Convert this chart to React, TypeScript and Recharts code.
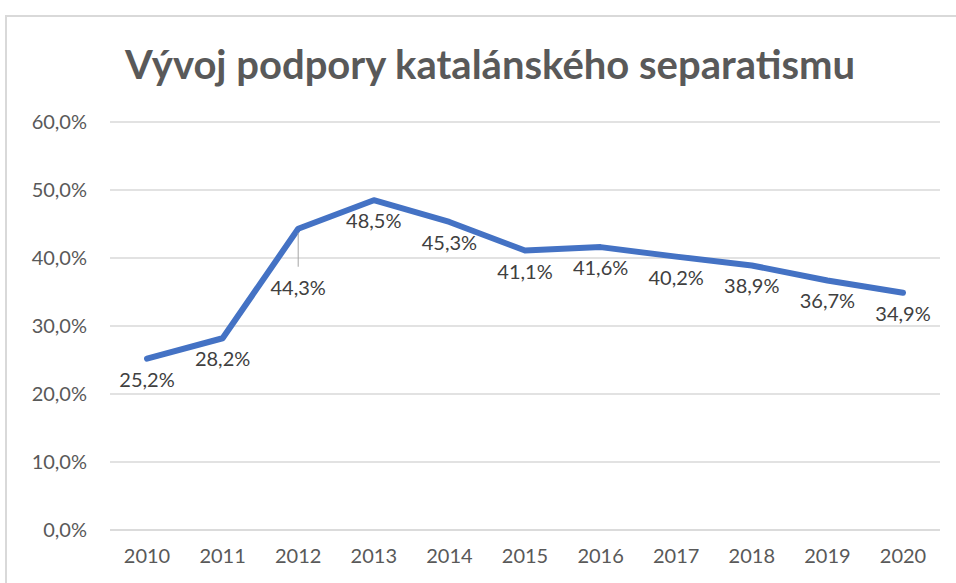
import React from 'react';
import { LineChart, Line, XAxis, YAxis, CartesianGrid, LabelList } from 'recharts';

const years = ['2010', '2011', '2012', '2013', '2014', '2015', '2016', '2017', '2018', '2019', '2020'];
const support = [25.2, 28.2, 44.3, 48.5, 45.3, 41.1, 41.6, 40.2, 38.9, 36.7, 34.9];
const yTicks = [0, 10, 20, 30, 40, 50, 60];

const data = years.map((year, i) => ({ year, value: support[i] }));

const FONT = 'Lato, "Noto Sans", sans-serif';
const TEXT = '#595959';

const fmt = (v: number) => `${v.toFixed(1).replace('.', ',')}%`;

const PointLabel = (props: any) => {
  const { x, y, value, index } = props;
  // 2012 label was dragged down in the original, with a leader line
  const moved = index === 2;
  const dy = moved ? 58 : 20;
  return (
    <g>
      {moved && <line x1={x} y1={y + 4} x2={x} y2={y + 38} stroke="#a6a6a6" strokeWidth={1} />}
      <text
        x={x}
        y={y + dy}
        textAnchor="middle"
        dominantBaseline="central"
        fill="#404040"
        fontSize={20}
        fontFamily={FONT}
      >
        {fmt(value)}
      </text>
    </g>
  );
};

export default function App() {
  return (
    <div style={{ position: 'absolute', left: 0, top: 0, width: 956, height: 583, background: '#fff' }}>
      <div
        style={{
          position: 'absolute',
          left: 5,
          top: 15,
          right: 0,
          bottom: 0,
          borderTop: '2px solid #d9d9d9',
          borderLeft: '2px solid #d9d9d9',
        }}
      />
      <div
        style={{
          position: 'absolute',
          left: 0,
          width: 980,
          top: 40,
          textAlign: 'center',
          fontFamily: FONT,
          fontWeight: 700,
          fontSize: 40,
          color: TEXT,
        }}
      >
        Vývoj podpory katalánského separatismu
      </div>
      <div style={{ position: 'absolute', left: 0, top: 0 }}>
        <LineChart width={956} height={583} data={data} margin={{ top: 122, right: 16, bottom: 0, left: 0 }}>
          <CartesianGrid vertical={false} stroke="#d9d9d9" strokeWidth={1.5} />
          <XAxis
            dataKey="year"
            height={53}
            padding={{ left: 37, right: 37 }}
            axisLine={{ stroke: '#d9d9d9', strokeWidth: 1.5 }}
            tickLine={false}
            tickSize={0}
            tickMargin={19}
            tick={{ fill: TEXT, fontSize: 20, fontFamily: FONT }}
            interval={0}
          />
          <YAxis
            width={110}
            domain={[0, 60]}
            ticks={yTicks}
            tickFormatter={fmt}
            axisLine={false}
            tickLine={false}
            tickSize={0}
            tickMargin={23}
            tick={{ fill: TEXT, fontSize: 20, fontFamily: FONT }}
          />
          <Line
            type="linear"
            dataKey="value"
            stroke="#4472c4"
            strokeWidth={6}
            strokeLinejoin="round"
            strokeLinecap="round"
            dot={false}
            isAnimationActive={false}
          >
            <LabelList dataKey="value" content={PointLabel} />
          </Line>
        </LineChart>
      </div>
    </div>
  );
}
